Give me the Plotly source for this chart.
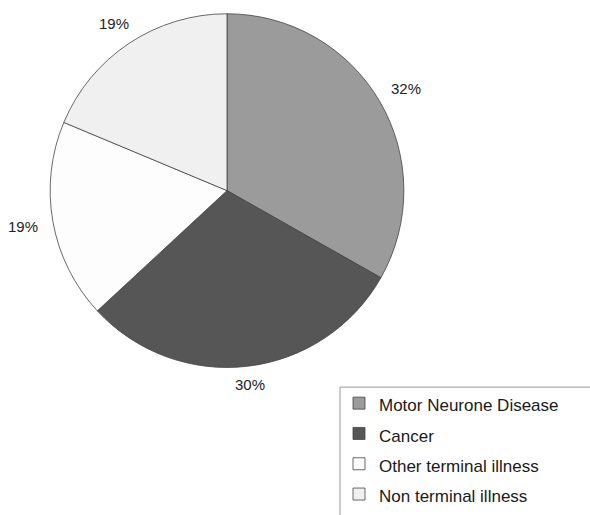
import math
import plotly.graph_objects as go

# Categories, slice sizes (as drawn in the picture) and printed percentage labels
labels = ["Motor Neurone Disease", "Cancer", "Other terminal illness", "Non terminal illness"]
values = [33.2, 29.9, 18.2, 18.7]
pct_labels = ["32%", "30%", "19%", "19%"]
colors = ["#9b9b9b", "#565656", "#fdfdfd", "#f0f0f0"]

W, H = 590, 515
cx, cy, r = 227, 194, 180
label_gap = 10
half_w, half_h = 16, 6.5
FONT = "Liberation Sans, Arial, sans-serif"

legend_labels = ['<span style="font-size:17px">%s</span>' % l for l in labels]

fig = go.Figure(go.Pie(
    labels=legend_labels,
    values=values,
    sort=False,
    direction="clockwise",
    rotation=0,
    marker=dict(colors=colors, line=dict(color="#444444", width=0.8)),
    textinfo="none",
    domain=dict(x=[(cx - r) / W, (cx + r) / W], y=[1 - (cy + r) / H, 1 - (cy - r) / H]),
    hovertext=labels,
    hoverinfo="text+percent",
))

# percentage labels placed just outside each slice at its mid angle
total = sum(values)
cum = 0.0
annotations = []
for v, t in zip(values, pct_labels):
    mid = (cum + v / 2) / total * 2 * math.pi
    cum += v
    s, c = math.sin(mid), math.cos(mid)
    d = r + label_gap + half_w * abs(s) + half_h * abs(c)
    px = cx + d * s
    py = cy - d * c
    annotations.append(dict(
        x=px / W, y=1 - py / H, xref="paper", yref="paper",
        text=t, showarrow=False, xanchor="center", yanchor="middle",
        font=dict(family=FONT, size=15, color="#222222"),
    ))

fig.update_layout(
    width=W, height=H,
    margin=dict(l=0, r=0, t=0, b=0),
    paper_bgcolor="white",
    plot_bgcolor="white",
    showlegend=True,
    annotations=annotations,
    legend=dict(
        x=339 / W, y=1 - 390 / H, xanchor="left", yanchor="top",
        borderwidth=0,
        font=dict(family=FONT, size=21, color="#1a1a1a"),
        bgcolor="rgba(0,0,0,0)",
        traceorder="normal",
    ),
    shapes=[dict(
        type="rect", xref="paper", yref="paper",
        x0=340 / W, x1=1.05, y0=1 - 394 / H, y1=-0.05,
        line=dict(color="#999999", width=1), fillcolor="rgba(0,0,0,0)",
    )],
)

fig.write_html("out.html")
